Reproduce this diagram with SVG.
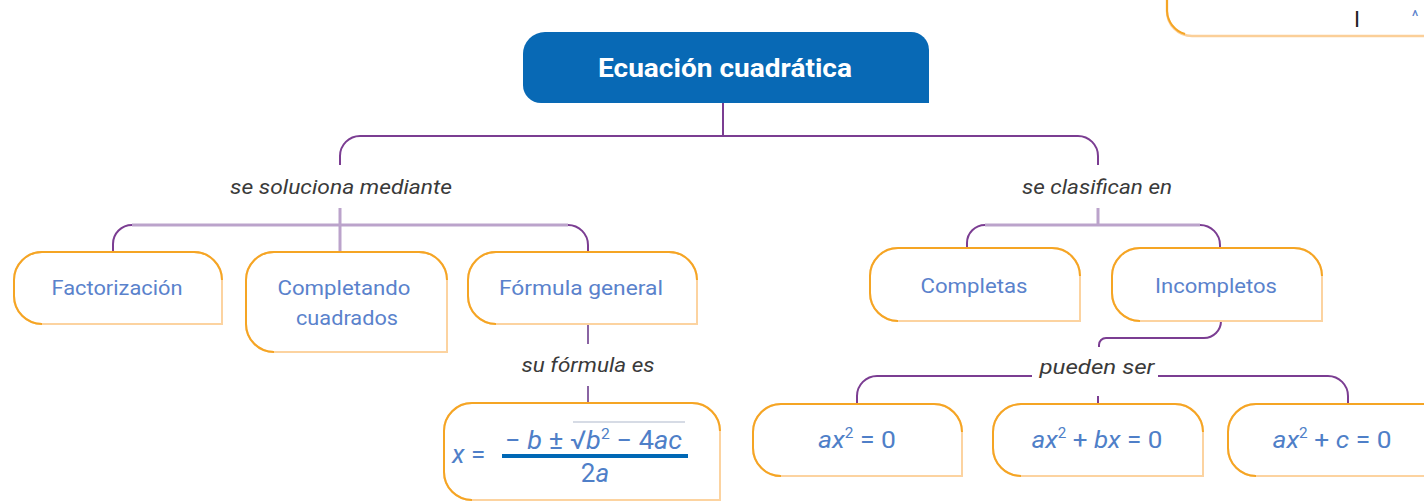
<svg xmlns="http://www.w3.org/2000/svg" width="1424" height="502" viewBox="0 0 1424 502">
<style>
.bx{fill:#fff;stroke:#fcd3a0;stroke-width:2}
.bs{fill:none;stroke:#f5a524;stroke-width:2}
.t{font-family:Roboto,"Liberation Sans",sans-serif;font-size:21px;fill:#5a82cc;text-anchor:middle}
.m{font-family:Roboto,"Liberation Sans",sans-serif;font-size:24px;fill:#4f7fc8;text-anchor:middle}
.i{font-style:italic}
.lb{font-family:Roboto,"Liberation Sans",sans-serif;font-size:20px;font-style:italic;fill:#3a3a3a;text-anchor:middle}
.cd{fill:none;stroke:#7b3d92;stroke-width:2}
.cl{fill:none;stroke:#bba3cb;stroke-width:3}
.cm{fill:none;stroke:#8a64a3;stroke-width:2}
</style>
<rect width="1424" height="502" fill="#fff"/>

<g id="partial-top-right">
<path d="M1167,-5 V11 A25,25 0 0 0 1192,36 H1430" fill="none" stroke="#fbcf98" stroke-width="2.5"/>
<path d="M1167,-5 V11 A25,25 0 0 0 1185,34" fill="none" stroke="#f5a524" stroke-width="2"/>
<text x="1357" y="27" font-family="Roboto,'Liberation Sans',sans-serif" font-size="22" fill="#222" text-anchor="middle">I</text>
<text x="1415" y="22" font-family="Roboto,'Liberation Sans',sans-serif" font-size="16" fill="#5a82cc" text-anchor="middle">^</text>
</g>

<g id="connectors">
<path class="cd" d="M723,103 V136"/>
<path class="cd" d="M340,165 V156 A20,20 0 0 1 360,136 H1078 A20,20 0 0 1 1098,156 V165"/>
<path class="cl" d="M340,208 V252"/>
<path class="cl" d="M132,225 H568"/>
<path class="cd" d="M113,252 V244 A19,19 0 0 1 132,225"/>
<path class="cd" d="M568,225 A20,20 0 0 1 588,245 V252"/>
<path class="cm" d="M588,324 V344"/>
<path class="cm" d="M588,386 V403"/>
<path class="cl" d="M1098,208 V225"/>
<path class="cl" d="M985,225 H1200"/>
<path class="cd" d="M967,248 V243 A18,18 0 0 1 985,225"/>
<path class="cd" d="M1200,225 A20,20 0 0 1 1220,245 V248"/>
<path class="cd" d="M1221,321 A17,17 0 0 1 1204,338 H1106 A7,7 0 0 0 1099,345 V347"/>
<path class="cd" d="M857,404 V396 A20,20 0 0 1 877,376 H1032"/>
<path class="cd" d="M1158,376 H1328 A20,20 0 0 1 1348,396 V404"/>
<path class="cd" d="M1098,396 V404"/>
</g>

<g id="labels">
<text class="lb" x="341" y="194" textLength="222" lengthAdjust="spacingAndGlyphs">se soluciona mediante</text>
<text class="lb" x="1097" y="194" textLength="150" lengthAdjust="spacingAndGlyphs">se clasifican en</text>
<text class="lb" x="588" y="372" textLength="133" lengthAdjust="spacingAndGlyphs">su fórmula es</text>
<text class="lb" x="1097" y="374" textLength="115" lengthAdjust="spacingAndGlyphs">pueden ser</text>
</g>

<g id="node-title">
<path d="M545,32 H911 A18,18 0 0 1 929,50 V103 H541 A18,18 0 0 1 523,85 V54 A22,22 0 0 1 545,32 Z" fill="#0869b5"/>
<text x="725" y="77" font-family="Roboto,'Liberation Sans',sans-serif" font-size="25" font-weight="bold" fill="#fff" text-anchor="middle" textLength="254" lengthAdjust="spacingAndGlyphs">Ecuación cuadrática</text>
</g>

<g id="node-factorizacion">
<path class="bx" d="M42,252 H194 A28,28 0 0 1 222,280 V324 H42 A28,28 0 0 1 14,296 V280 A28,28 0 0 1 42,252 Z"/>
<path class="bs" d="M42,324 A28,28 0 0 1 14,296 V280 A28,28 0 0 1 42,252 H194 A28,28 0 0 1 222,280"/>
<text class="t" x="117" y="295" textLength="131" lengthAdjust="spacingAndGlyphs">Factorización</text>
</g>

<g id="node-completando">
<path class="bx" d="M274,252 H419 A28,28 0 0 1 447,280 V352 H274 A28,28 0 0 1 246,324 V280 A28,28 0 0 1 274,252 Z"/>
<path class="bs" d="M274,352 A28,28 0 0 1 246,324 V280 A28,28 0 0 1 274,252 H419 A28,28 0 0 1 447,280"/>
<text class="t" x="344" y="295" textLength="133" lengthAdjust="spacingAndGlyphs">Completando</text>
<text class="t" x="347" y="325" textLength="102" lengthAdjust="spacingAndGlyphs">cuadrados</text>
</g>

<g id="node-formula-general">
<path class="bx" d="M496,252 H669 A28,28 0 0 1 697,280 V324 H496 A28,28 0 0 1 468,296 V280 A28,28 0 0 1 496,252 Z"/>
<path class="bs" d="M496,324 A28,28 0 0 1 468,296 V280 A28,28 0 0 1 496,252 H669 A28,28 0 0 1 697,280"/>
<text class="t" x="581" y="295" textLength="164" lengthAdjust="spacingAndGlyphs">Fórmula general</text>
</g>

<g id="node-formula">
<path class="bx" d="M472,403 H692 A28,28 0 0 1 720,431 V500 H472 A28,28 0 0 1 444,472 V431 A28,28 0 0 1 472,403 Z"/>
<path class="bs" d="M472,500 A28,28 0 0 1 444,472 V431 A28,28 0 0 1 472,403 H692 A28,28 0 0 1 720,431"/>
<text x="452" y="463" font-family="Roboto,'Liberation Sans',sans-serif" font-size="26" fill="#4f7fc8"><tspan font-style="italic">x</tspan> =</text>
<text x="505" y="449" font-family="Roboto,'Liberation Sans',sans-serif" font-size="26" fill="#4f7fc8" textLength="177" lengthAdjust="spacingAndGlyphs">− <tspan font-style="italic">b</tspan> ± √<tspan font-style="italic">b</tspan><tspan font-size="15" dy="-10">2</tspan><tspan dy="10"> − 4</tspan><tspan font-style="italic">ac</tspan></text>
<path d="M573,422 H685" stroke="#c9cfdc" stroke-width="1.5"/>
<rect x="502" y="454" width="186" height="4" fill="#0068b5"/>
<text x="595" y="482" font-family="Roboto,'Liberation Sans',sans-serif" font-size="26" fill="#4f7fc8" text-anchor="middle">2<tspan font-style="italic">a</tspan></text>
</g>

<g id="node-completas">
<path class="bx" d="M898,248 H1052 A28,28 0 0 1 1080,276 V321 H898 A28,28 0 0 1 870,293 V276 A28,28 0 0 1 898,248 Z"/>
<path class="bs" d="M898,321 A28,28 0 0 1 870,293 V276 A28,28 0 0 1 898,248 H1052 A28,28 0 0 1 1080,276"/>
<text class="t" x="974" y="293" textLength="107" lengthAdjust="spacingAndGlyphs">Completas</text>
</g>

<g id="node-incompletos">
<path class="bx" d="M1140,248 H1294 A28,28 0 0 1 1322,276 V321 H1140 A28,28 0 0 1 1112,293 V276 A28,28 0 0 1 1140,248 Z"/>
<path class="bs" d="M1140,321 A28,28 0 0 1 1112,293 V276 A28,28 0 0 1 1140,248 H1294 A28,28 0 0 1 1322,276"/>
<text class="t" x="1216" y="293" textLength="122" lengthAdjust="spacingAndGlyphs">Incompletos</text>
</g>

<g id="node-ax2">
<path class="bx" d="M781,404 H934 A28,28 0 0 1 962,432 V476 H781 A28,28 0 0 1 753,448 V432 A28,28 0 0 1 781,404 Z"/>
<path class="bs" d="M781,476 A28,28 0 0 1 753,448 V432 A28,28 0 0 1 781,404 H934 A28,28 0 0 1 962,432"/>
<text class="m" x="857" y="448" textLength="78" lengthAdjust="spacingAndGlyphs"><tspan class="i">ax</tspan><tspan font-size="14" dy="-10">2</tspan><tspan dy="10"> = 0</tspan></text>
</g>

<g id="node-ax2-bx">
<path class="bx" d="M1021,404 H1175 A28,28 0 0 1 1203,432 V476 H1021 A28,28 0 0 1 993,448 V432 A28,28 0 0 1 1021,404 Z"/>
<path class="bs" d="M1021,476 A28,28 0 0 1 993,448 V432 A28,28 0 0 1 1021,404 H1175 A28,28 0 0 1 1203,432"/>
<text class="m" x="1097" y="448" textLength="131" lengthAdjust="spacingAndGlyphs"><tspan class="i">ax</tspan><tspan font-size="14" dy="-10">2</tspan><tspan dy="10"> + </tspan><tspan class="i">bx</tspan> = 0</text>
</g>

<g id="node-ax2-c">
<path class="bx" d="M1256,404 H1422 A28,28 0 0 1 1450,432 V476 H1256 A28,28 0 0 1 1228,448 V432 A28,28 0 0 1 1256,404 Z"/>
<path class="bs" d="M1256,476 A28,28 0 0 1 1228,448 V432 A28,28 0 0 1 1256,404 H1430"/>
<text class="m" x="1332" y="448" textLength="119" lengthAdjust="spacingAndGlyphs"><tspan class="i">ax</tspan><tspan font-size="14" dy="-10">2</tspan><tspan dy="10"> + </tspan><tspan class="i">c</tspan> = 0</text>
</g>
</svg>
